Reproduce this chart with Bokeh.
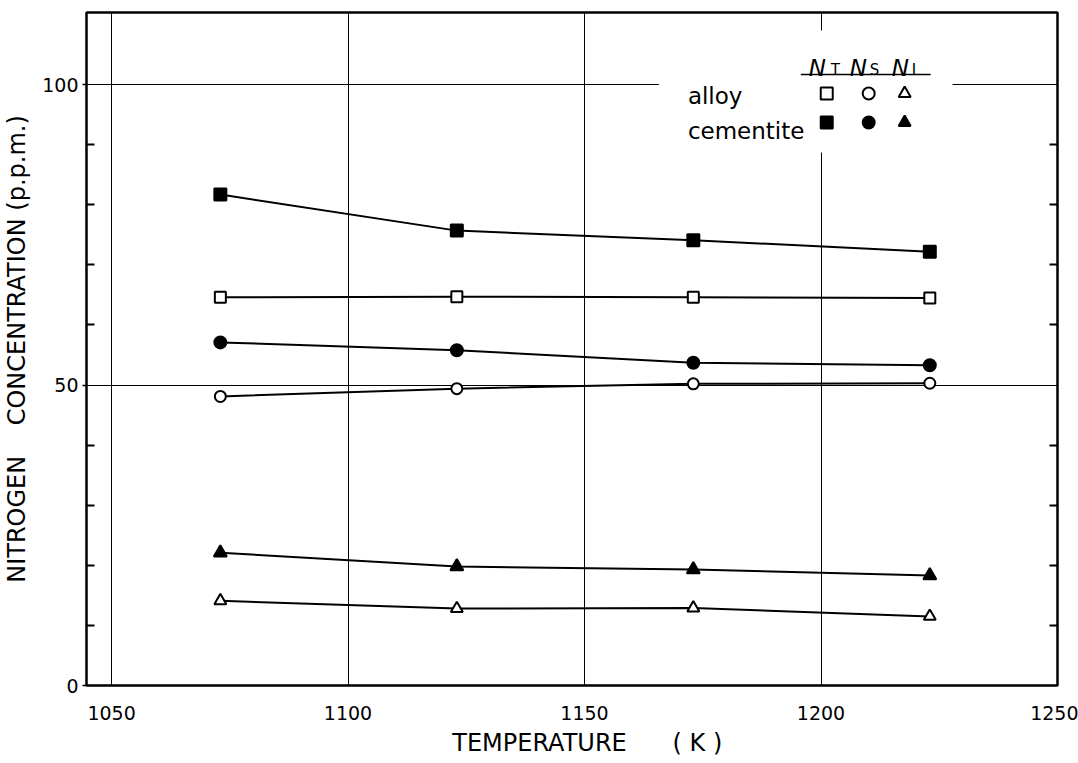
import math
from bokeh.plotting import figure
from bokeh.models import Range1d, FixedTicker, LinearAxis, Label
from bokeh.embed import file_html
from bokeh.resources import INLINE

# ---------------- data ----------------
temperature = [1073, 1123, 1173, 1223]          # K
nt_cementite = [81.7, 75.7, 74.1, 72.2]         # N_T, cementite (filled square)
nt_alloy = [64.6, 64.7, 64.6, 64.5]             # N_T, alloy (open square)
ns_cementite = [57.1, 55.8, 53.7, 53.3]         # N_S, cementite (filled circle)
ns_alloy = [48.1, 49.4, 50.2, 50.3]             # N_S, alloy (open circle)
ni_cementite = [22.1, 19.8, 19.3, 18.3]         # N_I, cementite (filled triangle)
ni_alloy = [14.1, 12.8, 12.9, 11.5]             # N_I, alloy (open triangle)

x_ticks = [1050, 1100, 1150, 1200, 1250]
y_ticks = [0, 50, 100]
y_minor = [10, 20, 30, 40, 60, 70, 80, 90]
x_grid = [1050, 1100, 1150, 1200]
y_grid = [50, 100]

row_names = ["alloy", "cementite"]
col_subs = ["T", "S", "I"]
col_markers = ["square", "circle", "triangle"]

NB = "\u00a0"
x_title = NB * 4 + "TEMPERATURE" + NB * 6 + "( K )"
y_title = "NITROGEN" + NB * 4 + "CONCENTRATION (p.p.m.)"

# ---------------- layout helpers (picture pixel -> data) ----------------
X0, X1 = 1044.7, 1250.0
Y0, Y1 = 0.0, 112.0
PL, PR, PT, PB = 85, 1057, 12, 685   # frame edges in the picture
W, H = 1078, 763


def dx(px):
    return X0 + (px - PL) * (X1 - X0) / (PR - PL)


def dy(py):
    return Y0 + (PB - py) * (Y1 - Y0) / (PB - PT)


FONT = "DejaVu Sans"

p = figure(width=W, height=H, x_range=Range1d(X0, X1), y_range=Range1d(Y0, Y1),
           output_backend="svg", toolbar_location=None,
           min_border_left=PL, min_border_right=W - PR,
           min_border_top=PT, min_border_bottom=H - PB,
           background_fill_color="white", border_fill_color="white")
p.outline_line_color = "black"
p.outline_line_width = 2.5

# axes
xa = p.xaxis[0]
xa.ticker = FixedTicker(ticks=x_ticks)
xa.major_tick_in = 0
xa.major_tick_out = 0
xa.minor_tick_in = 0
xa.minor_tick_out = 0
xa.axis_line_color = None
xa.major_label_text_font = FONT
xa.major_label_text_font_size = "19px"
xa.major_label_text_color = "black"
xa.major_label_standoff = 20
xa.axis_label = x_title
xa.axis_label_text_font = FONT
xa.axis_label_text_font_size = "24px"
xa.axis_label_text_font_style = "normal"
xa.axis_label_text_color = "black"
xa.axis_label_standoff = 6

ya = p.yaxis[0]
ya.ticker = FixedTicker(ticks=y_ticks, minor_ticks=y_minor)
ya.major_tick_in = 0
ya.major_tick_out = 4
ya.major_tick_line_width = 1.5
ya.minor_tick_in = 8
ya.minor_tick_out = 0
ya.minor_tick_line_width = 2
ya.axis_line_color = None
ya.major_label_text_font = FONT
ya.major_label_text_font_size = "19px"
ya.major_label_text_color = "black"
ya.major_label_standoff = 4
ya.axis_label = y_title
ya.axis_label_text_font = FONT
ya.axis_label_text_font_size = "24px"
ya.axis_label_text_font_style = "normal"
ya.axis_label_text_color = "black"
ya.axis_label_standoff = 8

ra = LinearAxis(ticker=FixedTicker(ticks=[], minor_ticks=y_minor))
ra.major_tick_in = 0
ra.major_tick_out = 0
ra.minor_tick_in = 8
ra.minor_tick_out = 0
ra.minor_tick_line_width = 2
ra.axis_line_color = None
ra.major_label_standoff = 0
p.add_layout(ra, "right")

# grids
p.xgrid.ticker = FixedTicker(ticks=x_grid)
p.ygrid.ticker = FixedTicker(ticks=y_grid)
p.grid.grid_line_color = "black"
p.grid.grid_line_width = 1
p.grid.grid_line_alpha = 1

# white key panel (hides grid lines behind the key)
p.quad(left=dx(658), right=dx(952), bottom=dy(152), top=dy(30),
       fill_color="white", line_color=None)

# data series
series = [
    (nt_cementite, "square", "black", 12),
    (nt_alloy, "square", "white", 11),
    (ns_cementite, "circle", "black", 12),
    (ns_alloy, "circle", "white", 11),
    (ni_cementite, "triangle", "black", 13),
    (ni_alloy, "triangle", "white", 12),
]
for vals, mk, fill, sz in series:
    p.line(temperature, vals, line_color="black", line_width=2)
for vals, mk, fill, sz in series:
    p.scatter(temperature, vals, marker=mk, size=sz, fill_color=fill,
              line_color="black", line_width=2)

# ---------------- key ----------------
n_left = [808, 849, 891]
sub_left = [830, 869, 911]
for nl, sl, sub in zip(n_left, sub_left, col_subs):
    p.add_layout(Label(x=dx(nl), y=dy(67), text="N", text_font=FONT,
                       text_font_style="italic", text_font_size="23px",
                       text_align="left", text_baseline="alphabetic",
                       text_color="black"))
    p.add_layout(Label(x=dx(sl), y=dy(69), text=sub, text_font=FONT,
                       text_font_size="15px", text_align="left",
                       text_baseline="alphabetic", text_color="black"))
p.line([dx(800), dx(930)], [dy(74), dy(74)], line_color="black", line_width=1.5)

row_base = [95, 130]
row_mark = [93, 122]
mark_x = [826, 868, 904]
for name, rb, rm, fill in zip(row_names, row_base, row_mark, ["white", "black"]):
    p.add_layout(Label(x=dx(687), y=dy(rb), text=name, text_font=FONT,
                       text_font_size="23px", text_align="left",
                       text_baseline="alphabetic", text_color="black"))
    for mx, mk in zip(mark_x, col_markers):
        p.scatter([dx(mx)], [dy(rm)], marker=mk, size=12, fill_color=fill,
                  line_color="black", line_width=2)

open("out.html", "w").write(file_html(p, INLINE))
